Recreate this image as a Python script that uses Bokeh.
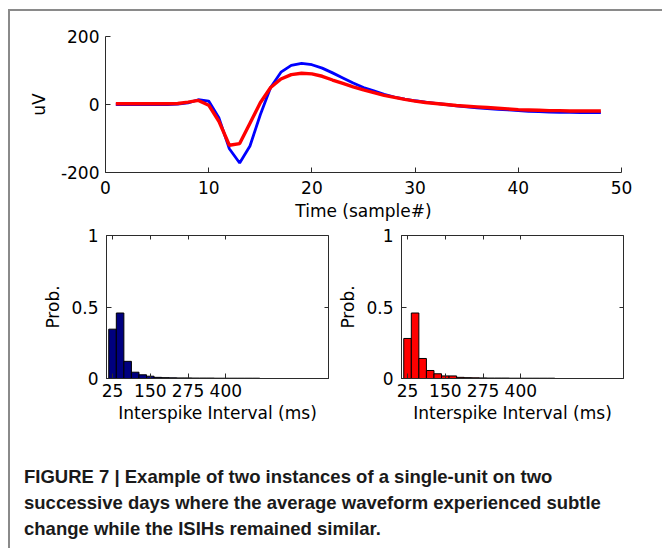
from bokeh.plotting import figure
from bokeh.layouts import column, row
from bokeh.models import Div, FixedTicker, LinearAxis, CustomJSTickFormatter
from bokeh.embed import file_html
from bokeh.resources import INLINE

# ---------------- data ----------------
samples = list(range(1, 49))
wave_day1 = [0, 0, 0, 0, 0, 0, 1, 5, 14, 10,
             -40, -130, -172, -122, -30, 50, 95, 115, 121, 117,
             107, 93, 78, 63, 50, 40, 30, 22, 16, 11,
             7, 3, 0, -4, -7, -10, -12, -14, -16, -18,
             -20, -21, -22, -23, -23, -24, -24, -24]
wave_day2 = [2, 2, 2, 2, 2, 2, 3, 7, 12, -2,
             -50, -120, -115, -55, 5, 50, 75, 88, 92, 90,
             83, 72, 62, 52, 43, 35, 27, 21, 15, 10,
             6, 3, 0, -3, -5, -7, -9, -11, -13, -15,
             -16, -17, -18, -18, -19, -19, -19, -19]

isi_centers = [25, 50, 75, 100, 125, 150, 175, 200, 225, 250,
               275, 300, 325, 350, 375, 400, 425, 450, 475, 500]
isi_prob_day1 = [0.345, 0.458, 0.12, 0.044, 0.026, 0.016, 0.008, 0.006, 0.005, 0.004,
                 0.004, 0.003, 0.003, 0.003, 0.002, 0.002, 0.002, 0.002, 0.002, 0.002]
isi_prob_day2 = [0.28, 0.458, 0.14, 0.056, 0.033, 0.018, 0.018, 0.008, 0.006, 0.005,
                 0.004, 0.003, 0.003, 0.003, 0.002, 0.002, 0.002, 0.002, 0.002, 0.002]

wave_xticks = [0, 10, 20, 30, 40, 50]
wave_yticks = [-200, 0, 200]
isi_xticks = [25, 150, 275, 400]
prob_yticks = [0, 0.5, 1]

caption_lines = [
    "FIGURE 7 | Example of two instances of a single-unit on two",
    "successive days where the average waveform experienced subtle",
    "change while the ISIHs remained similar.",
]

FONT = "DejaVu Sans"
AX = "#2b2b2b"
fmt = CustomJSTickFormatter(code="return tick.toString();")


def style_axis(ax, ticks, label=None, standoff=6, label_standoff=4):
    ax.ticker = FixedTicker(ticks=ticks)
    ax.formatter = fmt
    ax.major_tick_in = 5
    ax.major_tick_out = 0
    ax.minor_tick_line_color = None
    ax.axis_line_color = AX
    ax.major_tick_line_color = AX
    ax.major_label_text_font = FONT
    ax.major_label_text_font_size = "17px"
    ax.major_label_text_color = "black"
    ax.major_label_standoff = standoff
    if label is not None:
        ax.axis_label = label
        ax.axis_label_text_font = FONT
        ax.axis_label_text_font_size = "17px"
        ax.axis_label_text_font_style = "normal"
        ax.axis_label_text_color = "black"
        ax.axis_label_standoff = label_standoff


def mirror_axis(ticks):
    # tick marks only (box-style axes); labels are not drawn
    return LinearAxis(ticker=FixedTicker(ticks=ticks), major_tick_in=4, major_tick_out=0,
                      major_label_text_font_size="1px", major_label_text_color=None,
                      major_label_standoff=0, axis_line_color=None,
                      major_tick_line_color=AX, minor_tick_line_color=None)


# ---------------- top waveform plot ----------------
p = figure(width=650, height=214, x_range=(0, 50), y_range=(-200, 200),
           output_backend="svg", toolbar_location=None,
           min_border_left=95, min_border_right=39, min_border_top=25, min_border_bottom=53)
p.outline_line_color = None
p.grid.grid_line_color = None
p.line(samples, wave_day1, line_color="#0000ff", line_width=2.8)
p.line(samples, wave_day2, line_color="#ff0000", line_width=3.4)
style_axis(p.xaxis[0], wave_xticks, "Time (sample#)", standoff=8, label_standoff=4)
style_axis(p.yaxis[0], wave_yticks, "uV", standoff=6, label_standoff=9)


def hist_fig(probs, color, left, right):
    h = figure(width=325, height=215, x_range=(5, 740), y_range=(0, 1),
               output_backend="svg", toolbar_location=None,
               min_border_left=left, min_border_right=right, min_border_top=10, min_border_bottom=62)
    h.grid.grid_line_color = None
    h.outline_line_color = AX
    h.outline_line_width = 1
    h.vbar(x=isi_centers, top=probs, width=25, fill_color=color, line_color="black", line_width=1)
    style_axis(h.xaxis[0], isi_xticks, "Interspike Interval (ms)", standoff=5, label_standoff=3)
    style_axis(h.yaxis[0], prob_yticks, "Prob.", standoff=8, label_standoff=5)
    h.add_layout(mirror_axis(isi_xticks), "above")
    h.add_layout(mirror_axis(prob_yticks), "right")
    return h


h1 = hist_fig(isi_prob_day1, "#00007f", 96, 7)
h2 = hist_fig(isi_prob_day2, "#ff0000", 66, 37)

cap_html = ("<div style=\"font-family:'Liberation Sans';font-weight:bold;"
            "font-size:18.5px;line-height:26px;color:#1a1a1a;"
            "padding:19px 0 0 9px;white-space:nowrap\">"
            + "<br>".join(caption_lines) + "</div>")
cap = Div(text=cap_html, width=650, height=106)

layout = column(p, row(h1, h2), cap,
                styles={"border-left": "2px solid #8a8a8a", "border-top": "2px solid #8a8a8a",
                        "margin-left": "8px", "margin-top": "9px"})

open("out.html", "w").write(file_html(layout, INLINE))
